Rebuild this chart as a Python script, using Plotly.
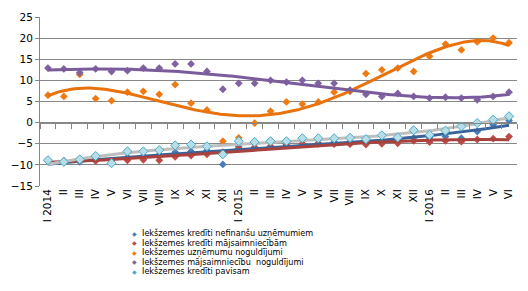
import numpy as np
import plotly.graph_objects as go

months = ["I 2014", "II", "III", "IV", "V", "VI", "VII", "VIII", "IX", "X", "XI", "XII",
          "I 2015", "II", "III", "IV", "V", "VI", "VII", "VIII", "IX", "X", "XI", "XII",
          "I 2016", "II", "III", "IV", "V", "VI"]

nonfin_credit = [-9.2, -9.4, -9.3, -8.7, -9.6, -8.2, -7.9, -7.6, -7.0, -6.8, -6.6, -9.9,
                 -5.7, -5.9, -5.6, -5.3, -5.0, -4.8, -4.6, -4.5, -4.2, -4.3, -4.0, -3.6,
                 -3.6, -3.3, -3.7, -2.1, -0.5, 0.5]
household_credit = [-8.8, -9.0, -8.9, -9.1, -9.1, -8.9, -8.8, -8.9, -8.1, -7.8, -7.5, -7.0,
                    -6.1, -5.8, -5.6, -5.3, -5.0, -5.0, -5.1, -5.1, -5.2, -5.0, -4.9, -4.3,
                    -4.6, -4.3, -4.5, -4.0, -3.8, -3.3]
enterprise_deposits = [6.5, 6.2, 11.4, 5.7, 5.2, 7.2, 7.4, 6.7, 9.0, 4.6, 3.0, -4.4,
                       -3.6, -0.1, 2.7, 4.9, 4.4, 4.9, 7.2, 7.4, 11.6, 12.5, 12.9, 12.1,
                       15.7, 18.6, 17.2, 19.1, 20.0, 18.9]
household_deposits = [12.9, 12.7, 11.8, 12.7, 12.1, 12.3, 12.9, 12.9, 13.9, 13.9, 12.1, 7.9,
                      9.3, 9.3, 10.0, 9.6, 10.0, 9.3, 9.3, 7.7, 6.7, 6.2, 6.9, 6.2,
                      5.8, 6.0, 5.8, 5.4, 6.2, 7.2]
total_credit = [-8.9, -9.3, -8.7, -7.9, -9.6, -6.8, -6.8, -6.5, -5.4, -5.2, -5.6, -7.5,
                -4.4, -4.6, -4.4, -4.4, -3.7, -3.7, -3.7, -3.6, -3.9, -3.0, -3.5, -1.8,
                -2.9, -1.9, -0.9, -0.1, 0.7, 1.5]

series_names = ["Iekšzemes kredīti nefinanšu uzņēmumiem",
                "Iekšzemes kredīti mājsaimniecībām",
                "Iekšzemes uzņēmumu noguldījumi",
                "Iekšzemes mājsaimniecību  noguldījumi",
                "Iekšzemes kredīti pavisam"]

marker_colors = ["#4A7EBB", "#BE4B48", "#F07A12", "#7F62A1", "#4BACC6"]
trend_colors = ["#3A639A", "#A8423E", "#E8720C", "#7A5C9C", "#BEBEBE"]
trend_degree = [3, 3, 4, 4, 3]

series = [nonfin_credit, household_credit, enterprise_deposits, household_deposits, total_credit]
x = np.arange(len(months))
xf = np.linspace(0, len(months) - 1, 300)

y_min, y_max = -15, 25

fig = go.Figure()

for k in range(4):
    fig.add_trace(go.Scatter(x=x, y=series[k], mode="markers", name=series_names[k],
                             marker=dict(symbol="diamond", size=6, color=marker_colors[k]),
                             showlegend=False))

for k in range(5):
    coef = np.polyfit(x, series[k], trend_degree[k])
    fig.add_trace(go.Scatter(x=xf, y=np.polyval(coef, xf), mode="lines",
                             line=dict(color=trend_colors[k], width=3),
                             showlegend=False, hoverinfo="skip"))

fig.add_trace(go.Scatter(x=x, y=series[4], mode="markers", name=series_names[4],
                         marker=dict(symbol="diamond", size=7, color="#B7DEE8",
                                     line=dict(color=marker_colors[4], width=1)),
                         showlegend=False))

fig.add_trace(go.Scatter(x=[None], y=[None], xaxis="x2", yaxis="y", showlegend=False))

grid = "#878787"
fig.update_layout(
    width=528, height=291,
    margin=dict(l=38, r=11, t=15, b=105),
    plot_bgcolor="white", paper_bgcolor="white",
    showlegend=False,
    font=dict(family="DejaVu Sans", size=10.5, color="black"),
    xaxis=dict(range=[-0.5, len(months) - 0.5], tickmode="array", tickvals=list(x),
               ticktext=months, tickangle=-90, ticks="", showline=False,
               showgrid=False, zeroline=False, tickfont=dict(size=10.5)),
    xaxis2=dict(range=[-0.5, len(months) - 0.5], overlaying="x", anchor="free",
                position=(0 - y_min) / (y_max - y_min), side="bottom",
                tickmode="array", tickvals=[i - 0.5 for i in range(len(months) + 1)],
                showticklabels=False, ticks="outside", ticklen=5, tickcolor=grid,
                showline=True, linecolor=grid, linewidth=1, showgrid=False, zeroline=False),
    yaxis=dict(range=[y_min, y_max], tick0=0, dtick=5, showgrid=True, gridcolor=grid,
               gridwidth=1, showline=True, linecolor=grid, ticks="outside", ticklen=4,
               tickcolor=grid, zeroline=False, tickfont=dict(size=10.5)),
)

plot_w = 528 - 38 - 11
plot_h = 291 - 15 - 105
rows_px = [234, 243.6, 253.2, 262.8, 272.4]
for k in range(5):
    yp = (291 - 105 - rows_px[k]) / plot_h
    fig.add_annotation(x=(133 - 38) / plot_w, y=yp, xref="paper", yref="paper",
                       text="◆", showarrow=False, xanchor="center", yanchor="middle",
                       font=dict(size=6, color=marker_colors[k]))
    fig.add_annotation(x=(139 - 38) / plot_w, y=yp, xref="paper", yref="paper",
                       text=series_names[k], showarrow=False, xanchor="left", yanchor="middle",
                       font=dict(size=8.1, color="black"), borderpad=0)

fig.write_html("out.html")
